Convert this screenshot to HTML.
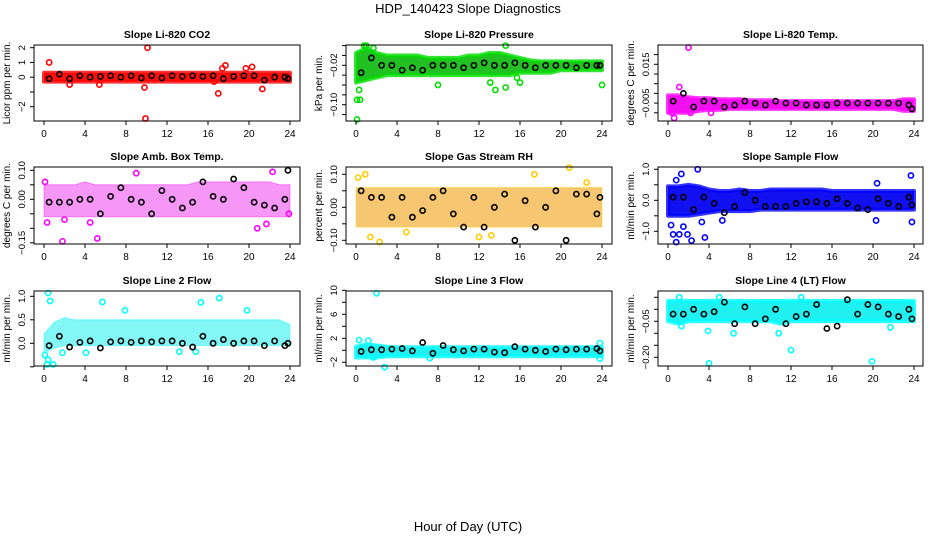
<!DOCTYPE html>
<html><head><meta charset="utf-8">
<style>
html,body{margin:0;padding:0;background:#fff;}
svg{display:block;font-family:"Liberation Sans",sans-serif;}
</style></head>
<body>
<svg id="chart" width="936" height="540" viewBox="0 0 936 540">
<rect width="936" height="540" fill="#fff"/>
<text x="468" y="13" text-anchor="middle" font-size="13">HDP_140423  Slope Diagnostics</text>
<text x="468" y="531" text-anchor="middle" font-size="13">Hour of Day (UTC)</text>
<g id="panels"></g>
</svg>
<script>
const hours = [0,1,2,3,4,5,6,7,8,9,10,11,12,13,14,15,16,17,18,19,20,21,22,23,24];
const xTicks = [0,4,8,12,16,20,24];

// CO2
const co2Lo = [-0.3,-0.3,-0.3,-0.3,-0.3,-0.3,-0.3,-0.3,-0.3,-0.3,-0.3,-0.3,-0.3,-0.3,-0.3,-0.3,-0.3,-0.3,-0.3,-0.3,-0.3,-0.3,-0.3,-0.3,-0.3];
const co2Hi = [0.3,0.3,0.3,0.3,0.3,0.3,0.3,0.3,0.3,0.3,0.3,0.3,0.3,0.3,0.3,0.3,0.3,0.3,0.3,0.3,0.3,0.3,0.3,0.3,0.3];
const co2Mean = [-0.1,0.2,-0.1,0.1,0,0.05,0.1,0,0.1,-0.05,0.1,-0.05,0.1,0.05,0.1,0.05,0.1,-0.1,0.05,0.1,0.1,-0.2,0,0,-0.1];
const co2OutX = [0.5,10.1,9.9,9.8,17,17.4,17.7,19.7,20.3,21.3,2.5,5.4,16.6];
const co2OutY = [1.0,2.0,-2.8,-0.7,-1.1,0.6,0.8,0.6,0.7,-0.8,-0.5,-0.5,-0.3];
// Pressure
const presLo = [-0.055,-0.05,-0.045,-0.04,-0.04,-0.04,-0.04,-0.04,-0.04,-0.04,-0.04,-0.04,-0.04,-0.04,-0.04,-0.04,-0.035,-0.035,-0.035,-0.035,-0.03,-0.03,-0.03,-0.03,-0.03];
const presHi = [0.005,0.015,0.005,0.0,0.0,0.0,0.0,-0.005,-0.005,-0.005,-0.005,0.0,0.0,0.005,0.005,0.0,-0.005,-0.01,-0.012,-0.012,-0.012,-0.012,-0.012,-0.012,-0.012];
const presMean = [-0.035,-0.005,-0.02,-0.02,-0.03,-0.025,-0.03,-0.02,-0.02,-0.02,-0.025,-0.02,-0.015,-0.02,-0.02,-0.015,-0.02,-0.025,-0.02,-0.02,-0.02,-0.025,-0.02,-0.02,-0.02];
const presOutX = [0.1,0.1,0.4,0.3,1.0,0.8,1.7,13.6,14.6,15.7,16,24,13.1,8,14.6];
const presOutY = [-0.13,-0.09,-0.09,-0.07,0.02,0.02,0.015,-0.07,0.02,-0.045,-0.055,-0.06,-0.055,-0.06,-0.065];
// Li-820 Temp
const tempLo = [-0.010,-0.010,-0.010,-0.009,-0.0085,-0.0085,-0.008,-0.008,-0.008,-0.008,-0.008,-0.008,-0.008,-0.008,-0.008,-0.008,-0.008,-0.008,-0.008,-0.008,-0.008,-0.008,-0.008,-0.009,-0.009];
const tempHi = [-0.001,-0.001,-0.002,-0.0025,-0.0025,-0.003,-0.003,-0.003,-0.0035,-0.0035,-0.0035,-0.004,-0.004,-0.004,-0.004,-0.004,-0.004,-0.004,-0.004,-0.004,-0.004,-0.004,-0.004,-0.003,-0.003];
const tempMean = [-0.004,0.000,-0.007,-0.004,-0.004,-0.007,-0.006,-0.004,-0.005,-0.006,-0.004,-0.005,-0.005,-0.006,-0.006,-0.006,-0.005,-0.005,-0.005,-0.005,-0.005,-0.005,-0.005,-0.006,-0.008];
const tempOutX = [2,0.6,1.1,0.4,2.2,4.2];
const tempOutY = [0.0236,-0.0127,0.0033,-0.010,-0.010,-0.010];
// Amb box temp
const ambLo = [-0.06,-0.06,-0.06,-0.06,-0.06,-0.06,-0.06,-0.06,-0.06,-0.06,-0.06,-0.06,-0.06,-0.06,-0.06,-0.06,-0.06,-0.06,-0.06,-0.06,-0.06,-0.06,-0.06,-0.06,-0.06];
const ambHi = [0.05,0.05,0.05,0.05,0.06,0.05,0.05,0.05,0.05,0.05,0.05,0.05,0.05,0.05,0.05,0.06,0.06,0.06,0.06,0.06,0.06,0.06,0.06,0.05,0.05];
const ambMean = [-0.01,-0.01,-0.01,0.0,0.0,-0.05,0.01,0.04,0.0,-0.01,-0.05,0.03,0.0,-0.03,-0.01,0.06,0.01,0.0,0.07,0.04,-0.01,-0.02,-0.03,0.0,0.1];
const ambOutX = [0.3,1.8,5.2,9,20.8,21.7,22.3,2,4.5,23.9,0.1];
const ambOutY = [-0.08,-0.145,-0.135,0.09,-0.1,-0.085,0.095,-0.07,-0.08,-0.05,0.06];
// Gas stream RH
const rhLo = [-0.06,-0.06,-0.06,-0.06,-0.06,-0.06,-0.06,-0.06,-0.06,-0.06,-0.06,-0.06,-0.06,-0.06,-0.06,-0.06,-0.06,-0.06,-0.06,-0.06,-0.06,-0.06,-0.06,-0.06,-0.06];
const rhHi = [0.06,0.06,0.06,0.06,0.06,0.06,0.06,0.06,0.06,0.06,0.06,0.06,0.06,0.06,0.06,0.06,0.06,0.06,0.06,0.06,0.06,0.06,0.06,0.06,0.06];
const rhMean = [0.05,0.03,0.03,-0.03,0.03,-0.03,-0.01,0.03,0.05,-0.02,-0.06,0.03,-0.06,0.0,0.04,-0.1,0.02,-0.06,0.0,0.05,-0.1,0.04,0.04,-0.02,0.03];
const rhOutX = [0.2,0.9,2.3,17.4,20.8,12,13.2,1.4,4.9,22.5];
const rhOutY = [0.09,0.1,-0.105,0.1,0.12,-0.09,-0.085,-0.09,-0.075,0.075];
// Sample flow
const sfLo = [-0.5,-0.5,-0.5,-0.45,-0.4,-0.35,-0.35,-0.35,-0.35,-0.3,-0.3,-0.3,-0.3,-0.3,-0.3,-0.3,-0.3,-0.3,-0.3,-0.3,-0.3,-0.3,-0.3,-0.3,-0.3];
const sfHi = [0.45,0.45,0.5,0.45,0.35,0.3,0.3,0.35,0.3,0.3,0.35,0.35,0.35,0.35,0.35,0.35,0.3,0.3,0.3,0.3,0.3,0.3,0.3,0.3,0.3];
const sfMean = [0.1,0.1,-0.3,0.1,-0.1,-0.4,-0.2,0.25,0.0,-0.2,-0.2,-0.2,-0.1,-0.05,-0.05,-0.1,0.05,-0.1,-0.25,-0.3,0.05,-0.1,-0.2,0.1,-0.15];
const sfOutX = [0.3,0.5,0.8,1.1,1.5,1.9,2.3,3.6,3.3,2.9,1.3,0.8,20.3,20.4,23.7,5.3,23.8];
const sfOutY = [-0.8,-1.1,-1.35,-1.1,-0.85,-1.1,-1.3,-1.2,-0.7,1.0,0.85,0.65,-0.65,0.55,0.8,-0.65,-0.7];
// Line 2 flow
const l2Lo = [-0.2,-0.1,-0.05,-0.05,-0.05,-0.05,-0.05,-0.05,-0.05,-0.05,-0.05,-0.05,-0.05,-0.05,-0.05,-0.05,-0.05,-0.05,-0.05,-0.05,-0.05,-0.05,-0.05,-0.05,-0.05];
const l2Hi = [0.2,0.45,0.55,0.5,0.5,0.5,0.5,0.5,0.5,0.5,0.5,0.5,0.5,0.5,0.5,0.5,0.5,0.5,0.5,0.5,0.5,0.5,0.5,0.5,0.4];
const l2Mean = [-0.05,0.15,-0.08,0.02,0.05,-0.1,0.03,0.05,0.02,0.05,0.03,0.05,0.05,0.0,-0.08,0.15,0.0,0.08,0.0,0.05,0.05,-0.05,0.05,-0.05,0.0];
const l2OutX = [0.1,0.3,0.4,0.9,0.4,0.6,5.7,15.3,17.1,1.8,4.1,13.2,14.8,7.9,19.8];
const l2OutY = [-0.25,-0.45,-0.35,-0.45,1.07,0.9,0.88,0.87,0.96,-0.2,-0.2,-0.18,-0.18,0.7,0.7];
// Line 3 flow
const l3Lo = [-1.2,-1.2,-1.2,-1.0,-1.0,-1.0,-1.0,-1.0,-1.0,-1.0,-1.0,-1.0,-1.0,-1.0,-1.0,-1.0,-1.0,-1.0,-1.0,-1.0,-1.0,-1.0,-1.0,-1.0,-1.0];
const l3Hi = [0.6,1.0,0.8,0.6,0.5,0.5,0.5,0.5,0.5,0.5,0.5,0.5,0.5,0.5,0.5,0.5,0.5,0.5,0.5,0.5,0.5,0.5,0.5,0.5,0.5];
const l3Mean = [-0.2,0.1,0.1,0.2,0.3,-0.1,1.3,-0.5,0.8,0.1,-0.1,0.2,0.2,-0.3,-0.4,0.6,0.2,0.0,-0.2,0.2,0.1,0.2,0.2,0.3,-0.1];
const l3OutX = [2,2.8,0.3,1.2,23.8,23.8,1.7,7.2];
const l3OutY = [9.5,-2.8,1.7,1.6,-1.4,1.2,-1.2,-1.3];
// Line 4 flow
const l4Lo = [-0.05,-0.06,-0.05,-0.05,-0.05,-0.05,-0.05,-0.05,-0.05,-0.05,-0.05,-0.06,-0.05,-0.05,-0.05,-0.05,-0.05,-0.05,-0.05,-0.05,-0.05,-0.05,-0.05,-0.05,-0.05];
const l4Hi = [0.035,0.035,0.035,0.035,0.035,0.035,0.035,0.035,0.035,0.035,0.035,0.035,0.035,0.035,0.035,0.035,0.035,0.035,0.035,0.035,0.035,0.035,0.035,0.035,0.035];
const l4Mean = [-0.02,-0.02,0.0,-0.02,-0.01,0.03,-0.06,0.01,-0.06,-0.04,0.0,-0.06,-0.03,-0.02,0.02,-0.08,-0.07,0.04,-0.02,0.02,0.01,-0.02,-0.03,0.0,-0.04];
const l4OutX = [4,19.9,12,3.9,6.4,10.8,1.1,5,13,1.3,21.7];
const l4OutY = [-0.225,-0.217,-0.17,-0.09,-0.1,-0.1,0.05,0.05,0.05,-0.07,-0.075];

const panels = [
 {name:'co2',title:'Slope Li-820 CO2',ylab:'Licor ppm per min.',col:0,row:0,color:'#ff0000',fill:'#ff1010',sparse:false,lo:co2Lo,hi:co2Hi,mean:co2Mean,ox:co2OutX,oy:co2OutY,
  cal:[2,47.7,-2,106.7],ticks:[2,1,0,-1,-2],labels:['2','1','0','','\u22122']},
 {name:'pressure',title:'Slope Li-820 Pressure',ylab:'kPa per min.',col:1,row:0,color:'#00dd00',fill:'#22c022',sparse:false,lo:presLo,hi:presHi,mean:presMean,ox:presOutX,oy:presOutY,
  cal:[-0.02,65.3,-0.06,85],ticks:[0.02,0,-0.02,-0.04,-0.06,-0.08,-0.10,-0.12],labels:['','','\u22120.02','','','','\u22120.10','']},
 {name:'li820-temp',title:'Slope Li-820 Temp.',ylab:'degrees C per min.',col:2,row:0,color:'#ff00ff',fill:'#f010f0',sparse:false,lo:tempLo,hi:tempHi,mean:tempMean,ox:tempOutX,oy:tempOutY,
  cal:[0.015,64.3,0.005,83.7],ticks:[0.020,0.015,0.010,0.005,0,-0.005,-0.010],labels:['','0.015','','','','\u22120.005','']},
 {name:'amb-box-temp',title:'Slope Amb. Box Temp.',ylab:'degrees C per min.',col:0,row:1,color:'#ff00ff',fill:'#f050f0',sparse:true,lo:ambLo,hi:ambHi,mean:ambMean,ox:ambOutX,oy:ambOutY,
  cal:[0.10,170.3,0.0,199.3],ticks:[0.10,0.05,0,-0.05,-0.10,-0.15],labels:['0.10','','0.00','','','\u22120.15']},
 {name:'gas-stream-rh',title:'Slope Gas Stream RH',ylab:'percent per min.',col:1,row:1,color:'#ffcc00',fill:'#f0a010',sparse:true,lo:rhLo,hi:rhHi,mean:rhMean,ox:rhOutX,oy:rhOutY,
  cal:[0.10,174.3,0.0,207.3],ticks:[0.10,0.05,0,-0.05,-0.10],labels:['0.10','','0.00','','\u22120.10']},
 {name:'sample-flow',title:'Slope Sample Flow',ylab:'ml/min per min.',col:2,row:1,color:'#0000ff',fill:'#1010f0',sparse:false,lo:sfLo,hi:sfHi,mean:sfMean,ox:sfOutX,oy:sfOutY,
  cal:[1.0,169.3,0.0,200.3],ticks:[1.0,0.5,0,-0.5,-1.0],labels:['1.0','','0.0','','\u22121.0']},
 {name:'line2-flow',title:'Slope Line 2 Flow',ylab:'ml/min per min.',col:0,row:2,color:'#00ffff',fill:'#30f0f0',sparse:true,lo:l2Lo,hi:l2Hi,mean:l2Mean,ox:l2OutX,oy:l2OutY,
  cal:[1.0,296.3,0.0,343.3],ticks:[1.0,0.5,0,-0.5],labels:['1.0','0.5','0.0','']},
 {name:'line3-flow',title:'Slope Line 3 Flow',ylab:'ml/min per min.',col:1,row:2,color:'#00ffff',fill:'#20f0f0',sparse:false,lo:l3Lo,hi:l3Hi,mean:l3Mean,ox:l3OutX,oy:l3OutY,
  cal:[10,290.3,0,350.3],ticks:[10,8,6,4,2,0,-2],labels:['10','','6','','2','','\u22122']},
 {name:'line4-flow',title:'Slope Line 4 (LT) Flow',ylab:'ml/min per min.',col:2,row:2,color:'#00ffff',fill:'#20f0f0',sparse:false,lo:l4Lo,hi:l4Hi,mean:l4Mean,ox:l4OutX,oy:l4OutY,
  cal:[-0.05,321.3,0.0,309.3],ticks:[0.05,0,-0.05,-0.10,-0.15,-0.20],labels:['','','\u22120.05','','','\u22120.20']}
];
const colLeft=[34,346,658], colRight=[300,612,923];
const rowTop=[45,167,291], rowBot=[121,244,366];
const NS='http://www.w3.org/2000/svg';
const root=document.getElementById('panels');
function mk(tag,attrs,parent){const e=document.createElementNS(NS,tag);for(const k in attrs)e.setAttribute(k,attrs[k]);parent.appendChild(e);return e;}

panels.forEach(p=>{
  const L=colLeft[p.col],R=colRight[p.col],T=rowTop[p.row],B=rowBot[p.row];
  const xs=h=>L+10+h*(246/24);
  const k=(p.cal[3]-p.cal[1])/(p.cal[2]-p.cal[0]);
  const ys=v=>p.cal[1]+(v-p.cal[0])*k;
  const g=mk('g',{},root);
  
  
  const clipId='clip-'+p.name;
  const cp=mk('clipPath',{id:clipId},g);mk('rect',{x:L,y:T-6,width:R-L,height:B-T+12},cp);
  const t=mk('text',{x:(L+R)/2,y:T-7,'text-anchor':'middle','font-size':'10.5','font-weight':'bold'},g);
  t.textContent=p.title;
  
  
  const dg=mk('g',{'clip-path':'url(#'+clipId+')'},g);
  let pts=hours.map((h,i)=>xs(h)+','+ys(p.hi[i]));
  pts=pts.concat(hours.slice().reverse().map((h,j)=>{const i=hours.length-1-j;return xs(h)+','+ys(p.lo[i]);}));
  const band=mk('polygon',{points:pts.join(' '),fill:p.fill,stroke:p.color,'stroke-width':p.sparse?'1':'4','stroke-linejoin':'round','fill-opacity':p.sparse?'0.6':'1','stroke-opacity':p.sparse?'0.4':'0.8'},dg);
  
  
  p.ox.forEach((x,i)=>{
    const c=mk('circle',{cx:xs(x),cy:ys(p.oy[i]),r:2.6,fill:'none',stroke:p.color,'stroke-width':'1.6'},dg);
    
    
  });
  hours.forEach((h,i)=>{
    const c=mk('circle',{cx:xs(Math.min(h+0.5,23.8)),cy:ys(p.mean[i]),r:2.6,fill:'none',stroke:'#000','stroke-width':'1.6'},dg);
    
    
  });
  mk('rect',{x:L,y:T,width:R-L,height:B-T,fill:'none',stroke:'#000','stroke-width':'1'},g);
  mk('line',{x1:xs(0),y1:B,x2:xs(24),y2:B,stroke:'#000'},g);
  xTicks.forEach(v=>{
    mk('line',{x1:xs(v),y1:B,x2:xs(v),y2:B+4,stroke:'#000'},g);
    const tl=mk('text',{x:xs(v),y:B+16,'text-anchor':'middle','font-size':'10'},g);
    tl.textContent=String(v);
    
    
  });
  const yt=p.ticks;
  mk('line',{x1:L,y1:ys(yt[0]),x2:L,y2:ys(yt[yt.length-1]),stroke:'#000'},g);
  yt.forEach((v,i)=>{
    const y=ys(v);
    mk('line',{x1:L-4,y1:y,x2:L,y2:y,stroke:'#000'},g);
    if(p.labels[i]){
      const tx=L-9;
      const tl=mk('text',{x:tx,y:y,'text-anchor':'middle','font-size':'9.5',transform:'rotate(-90 '+tx+' '+y+')'},g);
      tl.textContent=p.labels[i];
      
      
    }
  });
  const ax=L-24, ay=(T+B)/2;
  const yl=mk('text',{x:ax,y:ay,'text-anchor':'middle','font-size':'10',transform:'rotate(-90 '+ax+' '+ay+')'},g);
  yl.textContent=p.ylab;
  
  
});
</script>
</body></html>
